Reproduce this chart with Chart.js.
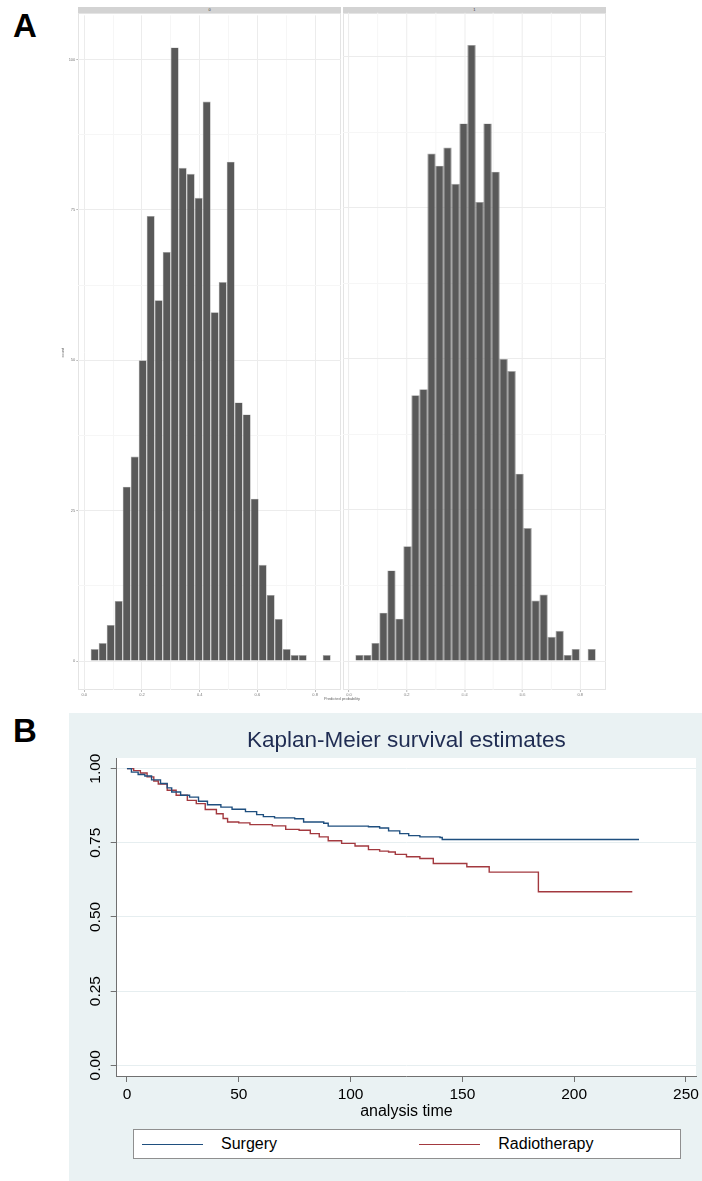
<!DOCTYPE html>
<html>
<head>
<meta charset="utf-8">
<script src="https://cdn.jsdelivr.net/npm/chart.js@4.4.1/dist/chart.umd.min.js"></script>
<style>
html, body { margin: 0; padding: 0; background: #fff; }
body { width: 702px; height: 1181px; position: relative; overflow: hidden; font-family: "Liberation Sans", Arial, sans-serif; }
.abs { position: absolute; }
.tag { font-weight: bold; font-size: 33px; line-height: 1; color: #000; }
.strip { background: #d3d3d3; height: 5.4px; top: 7.3px; font-size: 4px; line-height: 5.4px; text-align: center; color: #333; }
.panel { border: 1px solid #e4e4e4; box-sizing: border-box; top: 12.7px; height: 677.3px; }
.tiny { font-size: 4px; color: #666; white-space: nowrap; }
#kmBg { left: 69px; top: 713px; width: 633px; height: 468px; background: #eaf2f3; }
#kmLegend { left: 133.3px; top: 1129px; width: 547.4px; height: 30px; background: #fff; border: 1px solid #8f8f8f; box-sizing: border-box; }
.key { position: absolute; top: 14px; height: 0; border-top: 1.3px solid; width: 61px; }
.keytxt { position: absolute; top: 4px; font-size: 16px; line-height: 20px; color: #000; }
</style>
</head>
<body>
<div class="abs tag" style="left:13px;top:8.7px">A</div>
<div class="abs tag" style="left:13px;top:713.7px">B</div>

<div class="abs panel" style="left:78.3px;width:262.7px"></div>
<div class="abs panel" style="left:343px;width:262.7px"></div>
<div class="abs strip" style="left:78.3px;width:262.7px">0</div>
<div class="abs strip" style="left:343px;width:262.7px">1</div>

<canvas id="histLeft" class="abs" style="left:50px;top:12px"></canvas>
<canvas id="histRight" class="abs" style="left:343px;top:12px"></canvas>
<div class="abs tiny" style="left:342px;top:696px;transform:translateX(-50%)">Predicted probability</div>

<div id="kmBg" class="abs"></div>
<canvas id="km" class="abs" style="left:69px;top:713px"></canvas>
<div id="kmLegend" class="abs">
  <div class="key" style="left:7.7px;border-color:#1f4f7f"></div>
  <div class="keytxt" style="left:86.7px">Surgery</div>
  <div class="key" style="left:284.7px;border-color:#a3393f"></div>
  <div class="keytxt" style="left:364px">Radiotherapy</div>
</div>

<script>
// histogram: bin centres and counts per facet
var binCentres = [0.0360, 0.0637, 0.0915, 0.1192, 0.1469, 0.1747, 0.2024, 0.2301, 0.2578, 0.2856,
                  0.3133, 0.3410, 0.3688, 0.3965, 0.4242, 0.4520, 0.4797, 0.5074, 0.5351, 0.5629,
                  0.5906, 0.6183, 0.6461, 0.6738, 0.7015, 0.7293, 0.7570, 0.7847, 0.8124, 0.8402];
var countsGroup0 = [2, 3, 6, 10, 29, 34, 50, 74, 60, 68, 102, 82, 81, 77, 93, 58, 63, 83, 43, 41,
                    27, 16, 11, 7, 2, 1, 1, 0, 0, 1];
var countsGroup1 = [1, 1, 3, 8, 15, 7, 19, 44, 45, 84, 82, 85, 79, 89, 102, 76, 89, 81, 50, 48,
                    31, 22, 10, 11, 4, 5, 1, 2, 0, 2];
var histTicksX = [0, 0.1, 0.2, 0.3, 0.4, 0.5, 0.6, 0.7, 0.8];
var histTicksY = [0, 12.5, 25, 37.5, 50, 62.5, 75, 87.5, 100];

// Kaplan-Meier estimates
var surgTime = [0, 2, 5, 8, 11, 15, 18, 20, 24, 28, 32, 36, 42, 47, 53, 58, 61, 66, 75, 79, 88, 90,
                108, 113, 117, 122, 126, 131, 140, 141, 229];
var surgSurv = [1.000, 0.988, 0.980, 0.975, 0.962, 0.950, 0.935, 0.921, 0.910, 0.904, 0.890, 0.878,
                0.870, 0.863, 0.855, 0.845, 0.838, 0.834, 0.831, 0.820, 0.816, 0.806, 0.804, 0.800,
                0.790, 0.781, 0.774, 0.770, 0.768, 0.761, 0.761];
var radioTime = [0, 3, 6, 9, 12, 14, 18, 22, 27, 31, 35, 40, 43, 45, 50, 55, 65, 71, 77, 82, 86, 90,
                 96, 102, 108, 113, 117, 120, 125, 131, 137, 152, 162, 184, 226];
var radioSurv = [1.000, 0.993, 0.985, 0.972, 0.958, 0.948, 0.927, 0.910, 0.893, 0.882, 0.862, 0.848,
                 0.832, 0.820, 0.817, 0.811, 0.807, 0.795, 0.792, 0.781, 0.770, 0.757, 0.748, 0.739,
                 0.727, 0.722, 0.719, 0.711, 0.703, 0.697, 0.680, 0.669, 0.651, 0.585, 0.585];
var kmTicksX = [0, 50, 100, 150, 200, 250];
var kmTicksY = [0, 0.25, 0.5, 0.75, 1];

function isMajor(v, step) {
    return Math.abs(v / step - Math.round(v / step)) < 1e-6;
}

// grid colour helpers, context may come without a tick
function gridCol(step) {
    return function (c) {
        if (!c.tick) return '#f6f6f6';
        return isMajor(c.tick.value, step) ? '#ececec' : '#f6f6f6';
    };
}
function tickCol(step) {
    return function (c) {
        if (!c.tick) return 'rgba(0,0,0,0)';
        return isMajor(c.tick.value, step) ? '#bbbbbb' : 'rgba(0,0,0,0)';
    };
}

function histChart(id, counts, showY, w) {
    var canvas = document.getElementById(id);
    canvas.style.width = w + 'px';
    canvas.style.height = '690px';
    canvas.width = w; canvas.height = 690;
    return new Chart(canvas, {
        type: 'bar',
        data: {
            datasets: [{
                data: binCentres.map(function (x, i) { return {x: x, y: counts[i]}; }),
                backgroundColor: '#595959',
                borderColor: '#a8a8a8',
                borderWidth: 0.6,
                inflateAmount: 0,
                barPercentage: 1,
                categoryPercentage: 1
            }]
        },
        options: {
            responsive: false,
            animation: false,
            events: [],
            layout: {padding: {top: 0.7, right: 0, left: 0, bottom: 0}},
            plugins: {legend: {display: false}, tooltip: {enabled: false}},
            scales: {
                x: {
                    type: 'linear',
                    offset: false,
                    min: -0.0208, max: 0.8898,
                    afterBuildTicks: function (s) { s.ticks = histTicksX.map(function (v) { return {value: v}; }); },
                    afterFit: function (s) { s.height = 12; },
                    border: {display: false},
                    grid: {offset: false, color: gridCol(0.2), tickColor: tickCol(0.2), tickLength: 2},
                    ticks: {
                        font: {size: 4}, color: '#777', padding: 0, maxRotation: 0, autoSkip: false,
                        callback: function (v) { return isMajor(v, 0.2) ? v.toFixed(1) : ''; }
                    }
                },
                y: {
                    min: -4.8, max: 107.33,
                    afterBuildTicks: function (s) { s.ticks = histTicksY.map(function (v) { return {value: v}; }); },
                    afterFit: function (s) { s.width = showY ? 28.3 : 0; },
                    border: {display: false},
                    title: {display: showY, text: 'count', font: {size: 4}, color: '#666', padding: {top: 10.6, bottom: 0}},
                    grid: {color: gridCol(25), tickColor: tickCol(25), drawTicks: showY, tickLength: 2},
                    ticks: {
                        display: showY, font: {size: 4}, color: '#777', padding: 1, autoSkip: false,
                        callback: function (v) { return isMajor(v, 25) ? String(v) : ''; }
                    }
                }
            }
        }
    });
}

histChart('histLeft', countsGroup0, true, 291);
histChart('histRight', countsGroup1, false, 262.7);

// Kaplan-Meier plot
var kmCanvas = document.getElementById('km');
kmCanvas.style.width = '633px'; kmCanvas.style.height = '468px';
kmCanvas.width = 633; kmCanvas.height = 468;

var whiteArea = {
    id: 'whiteArea',
    beforeDraw: function (chart) {
        var a = chart.chartArea, ctx = chart.ctx;
        ctx.save();
        ctx.fillStyle = '#ffffff';
        ctx.fillRect(a.left, a.top, a.right - a.left, a.bottom - a.top);
        ctx.restore();
    }
};

new Chart(kmCanvas, {
    type: 'line',
    data: {
        datasets: [{
            label: 'Surgery',
            data: surgTime.map(function (t, i) { return {x: t, y: surgSurv[i]}; }),
            borderColor: '#1f4f7f',
            borderWidth: 1.4,
            pointRadius: 0,
            stepped: true,
            fill: false
        }, {
            label: 'Radiotherapy',
            data: radioTime.map(function (t, i) { return {x: t, y: radioSurv[i]}; }),
            borderColor: '#a3393f',
            borderWidth: 1.4,
            pointRadius: 0,
            stepped: true,
            fill: false
        }]
    },
    options: {
        responsive: false,
        animation: false,
        events: [],
        layout: {padding: {top: 0, right: 4, left: 0, bottom: 0}},
        plugins: {
            legend: {display: false},
            tooltip: {enabled: false},
            title: {
                display: true,
                text: 'Kaplan-Meier survival estimates',
                color: '#1f2c52',
                font: {family: '"Liberation Sans", Arial, sans-serif', size: 22.5, weight: 'normal'},
                padding: {top: 14, bottom: 4},
                fullSize: false
            }
        },
        scales: {
            x: {
                type: 'linear',
                min: -4.59, max: 254.5,
                afterBuildTicks: function (s) { s.ticks = kmTicksX.map(function (v) { return {value: v}; }); },
                afterFit: function (s) { s.height = 105; },
                border: {display: true, color: '#707070', width: 1},
                grid: {drawOnChartArea: false, drawTicks: true, tickLength: 6, tickColor: '#707070'},
                ticks: {
                    font: {family: '"Liberation Sans", Arial, sans-serif', size: 15.5},
                    color: '#000', padding: 3, maxRotation: 0, autoSkip: false
                },
                title: {
                    display: true, text: 'analysis time', color: '#000',
                    font: {family: '"Liberation Sans", Arial, sans-serif', size: 16},
                    padding: {top: 0, bottom: 59.7}
                }
            },
            y: {
                min: -0.036, max: 1.0357,
                afterBuildTicks: function (s) { s.ticks = kmTicksY.map(function (v) { return {value: v}; }); },
                afterFit: function (s) { s.width = 47.7; },
                border: {display: true, color: '#707070', width: 1},
                grid: {color: '#e6eef0', lineWidth: 1, drawTicks: true, tickLength: 6, tickColor: '#707070'},
                ticks: {
                    font: {family: '"Liberation Sans", Arial, sans-serif', size: 15.5},
                    color: '#000', padding: 0, minRotation: 90, maxRotation: 90, crossAlign: 'center', autoSkip: false,
                    callback: function (v) { return v.toFixed(2); }
                }
            }
        }
    },
    plugins: [whiteArea]
});
</script>
</body>
</html>
